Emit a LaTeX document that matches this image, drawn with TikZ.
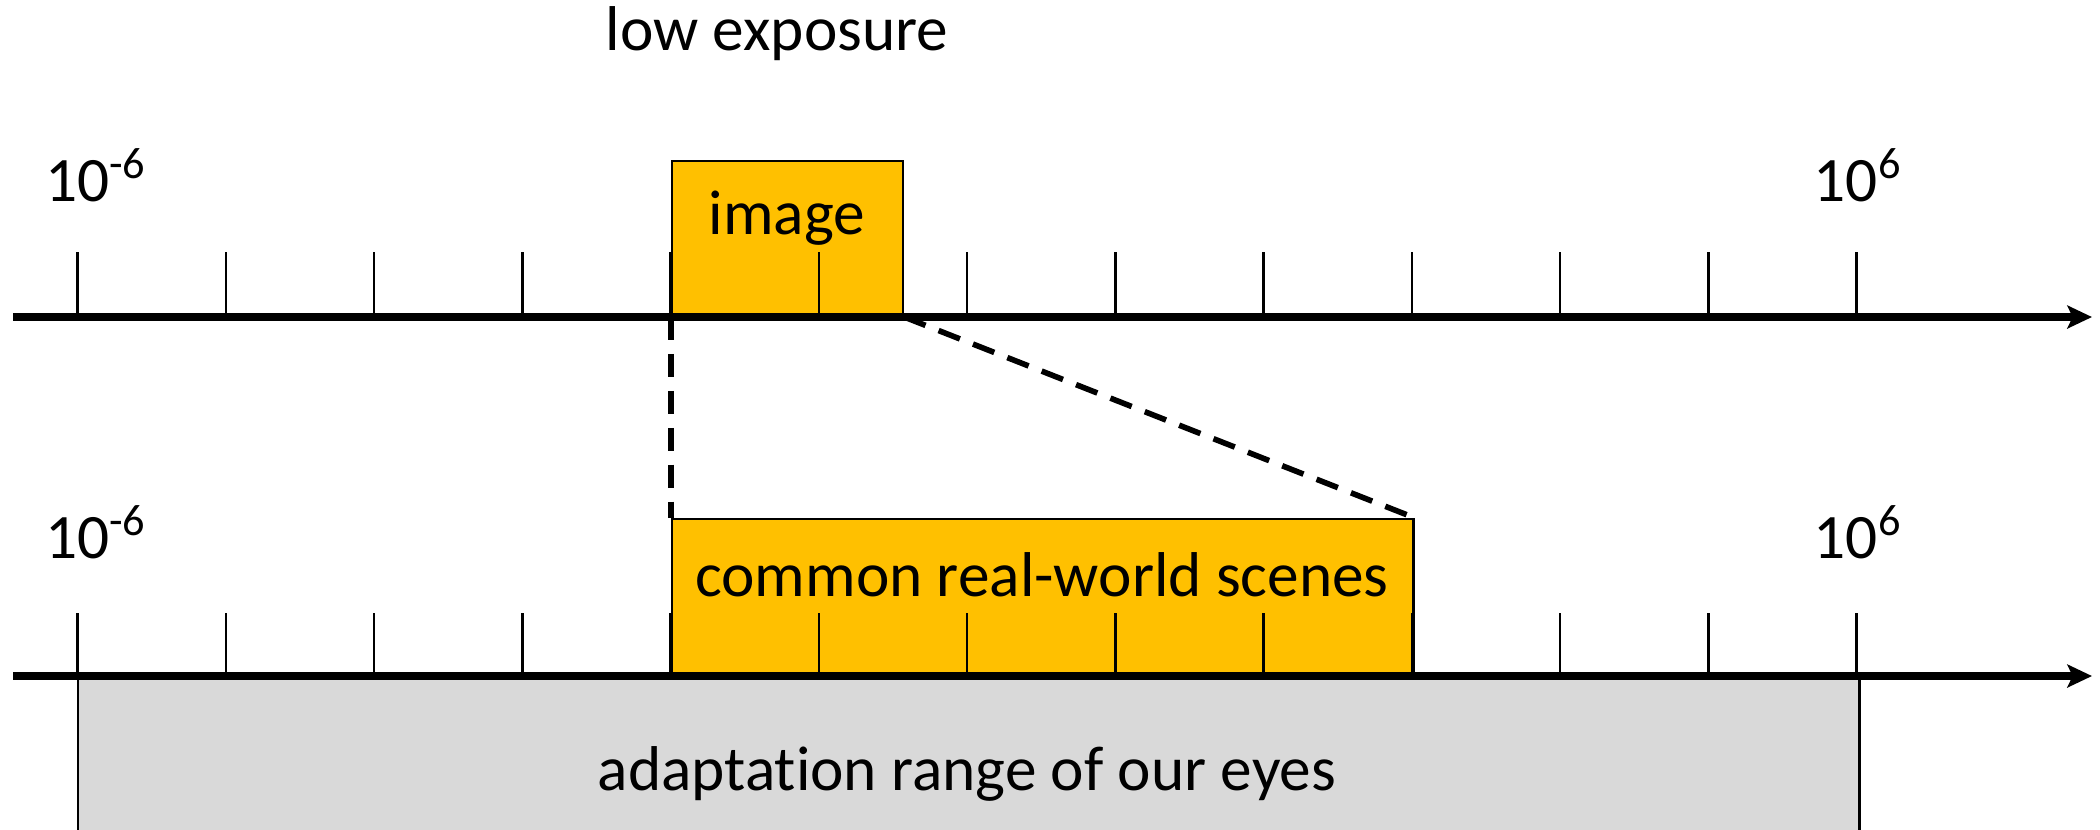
\documentclass[tikz,border=0pt]{standalone}
\usepackage{fontspec}
\setmainfont{Carlito}[Ligatures=NoCommon]
\usepackage{xcolor}
\usetikzlibrary{arrows.meta,positioning}
\definecolor{gold}{HTML}{FFC000}
\definecolor{eyegray}{HTML}{D9D9D9}

\begin{document}
\begin{tikzpicture}[x=0.01cm,y=-0.01cm,
  every node/.style={font=\fontsize{18}{21}\selectfont,inner sep=0pt},
  axis/.style={line width=2.3pt,-{Stealth[length=7pt,width=6.5pt,inset=1.5pt]}},
  tick/.style={line width=0.7pt},
  band/.style={draw,line width=0.6pt,fill=gold,anchor=south west},
  zoomln/.style={line width=1.6pt,dash pattern=on 6.5pt off 4pt}]
\useasboundingbox (0,0) rectangle (2100,829);
\node[fill=eyegray,minimum width=17.79cm,minimum height=1.53cm,anchor=north west] (eyes) at (78,676) {};
\draw[tick] (eyes.north west) -- (eyes.south west);
\draw[tick] (eyes.north east) -- (eyes.south east);
\node[band,minimum width=2.31cm,minimum height=1.55cm] (img) at (671,317) {};
\node[band,minimum width=7.41cm,minimum height=1.56cm] (scenes) at (671,676) {};
\draw[zoomln] (img.south west) -- (scenes.north west);
\draw[zoomln] (img.south east) -- (scenes.north east);
\foreach \i in {0,...,12} {
  \draw[tick] ({77.7+148.25*\i},317) -- ++(0,-65);
  \draw[tick] ({77.7+148.25*\i},676) -- ++(0,-63);
}
\coordinate (t0) at (13,317);
\coordinate (t1) at (2092,317);
\coordinate (b0) at (13,676);
\coordinate (b1) at (2092,676);
\draw[axis] (t0) -- (t1);
\draw[axis] (b0) -- (b1);
\node[anchor=base] (low) at (777,50) {low exposure};
\node[anchor=base] (imglbl) at (787,234) {image};
\node[anchor=base] (scnlbl) at (1042,596) {common real-world scenes};
\node[anchor=base] (eyelbl) at (967,790) {adaptation range of our eyes};
\node[anchor=base] (tmin) at (96,201) {10\textsuperscript{-6}};
\node[anchor=base] (tmax) at (1858,201) {10\textsuperscript{6}};
\node[anchor=base] (bmin) at (96,558) {10\textsuperscript{-6}};
\node[anchor=base] (bmax) at (1858,558) {10\textsuperscript{6}};
\end{tikzpicture}
\end{document}
